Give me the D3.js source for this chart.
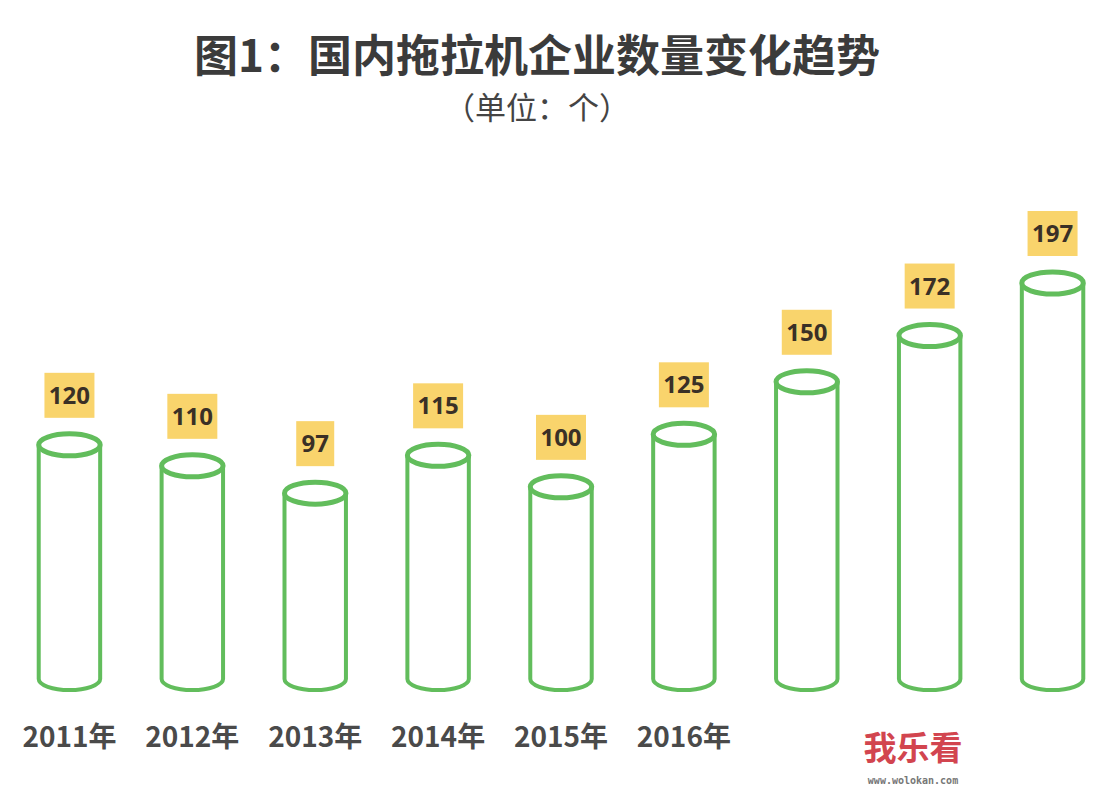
<!DOCTYPE html>
<html>
<head>
<meta charset="utf-8">
<script src="https://cdn.jsdelivr.net/npm/d3@7"></script>
<style>
  body { margin: 0; background: #fff; }
  text { font-family: "Noto Sans CJK SC", "Noto Sans", sans-serif; }
</style>
</head>
<body>
<svg id="chart"></svg>
<script>
// data
const years = ['2011', '2012', '2013', '2014', '2015', '2016', '2017', '2018', '2019'];
const counts = [120, 110, 97, 115, 100, 125, 150, 172, 197];
const tickLabels = ['2011年', '2012年', '2013年', '2014年', '2015年', '2016年', '', '', ''];

const W = 1119, H = 799;
const svg = d3.select('#chart').attr('width', W).attr('height', H);

// title
svg.append('text')
  .attr('x', 537).attr('y', 72)
  .attr('text-anchor', 'middle')
  .style('font-size', '44px').style('font-weight', 'bold')
  .attr('fill', '#3b3b3b')
  .text('图1：国内拖拉机企业数量变化趋势');
svg.append('text')
  .attr('x', 537).attr('y', 119)
  .attr('text-anchor', 'middle')
  .style('font-size', '31px')
  .attr('fill', '#444')
  .text('（单位：个）');

//scales
const x = d3.scaleBand().domain(years).range([8, 1114]).paddingInner(0.5).paddingOuter(0.25);
const y = d3.scaleLinear().domain([0, 197]).range([697, 283]);
const bottomY = 679, ry = 11;
const green = '#62bd5c';

const bar = svg.selectAll('g.bar').data(years).enter().append('g').attr('class', 'bar');

bar.each(function (d, i) {
  const g = d3.select(this);
  const cx = x(d) + x.bandwidth() / 2;
  const rx = x.bandwidth() / 2;
  const top = y(counts[i]);
  // body
  g.append('path')
    .attr('d', 'M' + (cx - rx) + ',' + top +
      ' L' + (cx - rx) + ',' + bottomY +
      ' A' + rx + ',' + ry + ' 0 0 0 ' + (cx + rx) + ',' + bottomY +
      ' L' + (cx + rx) + ',' + top)
    .attr('fill', '#fff')
    .attr('stroke', green).attr('stroke-width', 4);
  // top ellipse
  g.append('ellipse')
    .attr('cx', cx).attr('cy', top)
    .attr('rx', rx).attr('ry', ry)
    .attr('fill', '#fff')
    .attr('stroke', green).attr('stroke-width', 5);

  // value label box
  const label = String(counts[i]);
  const bw = label.length === 2 ? 38 : 50;
  g.append('rect')
    .attr('x', cx - bw / 2).attr('y', top - ry - 16 - 45)
    .attr('width', bw).attr('height', 45)
    .attr('fill', '#f9d46c');
  g.append('text')
    .attr('x', cx).attr('y', top - ry - 16 - 14)
    .attr('text-anchor', 'middle')
    .style('font-size', '24px').style('font-weight', 'bold')
    .style('font-family', '"Open Sans", "Noto Sans", sans-serif')
    .attr('fill', '#3a3026')
    .text(label);

  // category label
  g.append('text')
    .attr('x', cx).attr('y', 747)
    .attr('text-anchor', 'middle')
    .style('font-size', '28px').style('font-weight', 'bold')
    .attr('fill', '#4a4a4a')
    .text(tickLabels[i]);
});

// watermark
svg.append('text')
  .attr('x', 913).attr('y', 760)
  .attr('text-anchor', 'middle')
  .style('font-size', '33px').style('font-weight', 'bold')
  .attr('fill', '#d2454f')
  .text('我乐看');
svg.append('text')
  .attr('x', 913).attr('y', 784)
  .attr('text-anchor', 'middle')
  .style('font-size', '10px').style('font-family', 'monospace').style('font-weight', 'bold')
  .attr('fill', '#777')
  .text('www.wolokan.com');
</script>
</body>
</html>
